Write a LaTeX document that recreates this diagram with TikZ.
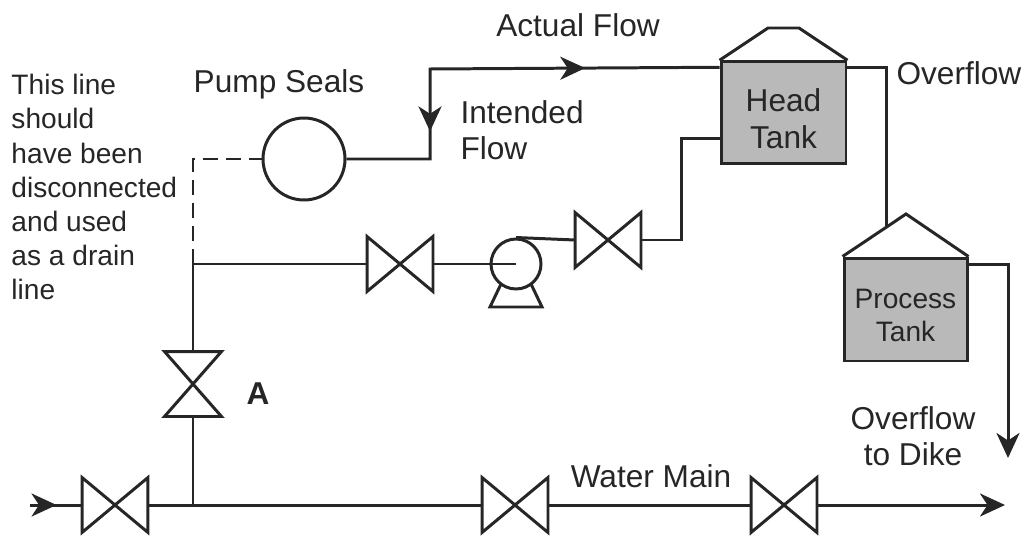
\documentclass[tikz,border=0pt]{standalone}
\usepackage{fontspec}
\setmainfont{Liberation Sans}
\usetikzlibrary{arrows.meta,decorations.markings}

\begin{document}
\begin{tikzpicture}[
                        x=0.02cm, y=-0.02cm,
                        color=black!85,
                        line width=1.7pt,
                        >={Stealth[length=0.5cm,width=0.46cm,inset=0.15cm]},
                        every node/.style={
                                font=\fontsize{18}{20.5}\selectfont,
                                inner sep=0pt,
                            },
                        valve/.style={minimum width=1.26cm, minimum height=1.04cm},
                        valveup/.style={minimum width=1.08cm, minimum height=1.24cm},
                        tank/.style={draw, fill=gray!55, minimum width=2.5cm, minimum height=2.03cm},
                        tanklabel/.style={align=center, font=\fontsize{18}{21}\selectfont},
                        seal/.style={circle, draw, minimum size=1.64cm},
                        pumpbody/.style={circle, draw, minimum size=1cm},
                        flowmark/.style={
                                postaction={decorate},
                                decoration={markings, mark=at position #1 with {\arrow{>}}},
                            },
                    ]

                    \useasboundingbox (0,0) rectangle (1026,537);

                    \coordinate (in) at (30,505);
                    \coordinate (out) at (1005,505);
                    \coordinate (mj) at (193,505);
                    \coordinate (tj) at (193,264);
                    \coordinate (tee) at (430,69);
                    \coordinate (ptin) at (886,228);
                    \coordinate (dike) at (1008,458);

                    \node[valve] (vin) at (115,505) {};
                    \node[valve] (vmid) at (515,505) {};
                    \node[valve] (vend) at (784,505) {};
                    \node[valve] (vsuc) at (400,264) {};
                    \node[valve] (vdis) at (608,240) {};
                    \node[valveup] (vA) at (193,384) {};

                    \foreach \v in {vin,vmid,vend,vsuc,vdis}{
                            \draw (\v.north west) -- (\v.south east) -- (\v.north east) -- (\v.south west) -- cycle;
                        }
                    \draw (vA.north west) -- (vA.north east) -- (vA.south west) -- (vA.south east) -- cycle;

                    \node[seal] (ps) at (304,159) {};
                    \node[pumpbody] (pu) at (516,264) {};
                    \draw ([shift={(-15,20)}]pu.center) -- ++(-11,23) -- ++(52,0) -- ++(-11,-23);

                    \node[tank] (ht) at (783.5,112.5) {};
                    \draw (ht.north west) -- (768,28) -- (799,28) -- (ht.north east);
                    \node[tanklabel] (htl) at ([yshift=-0.12cm]ht.center) {Head\\Tank};

                    \node[tank, minimum width=2.46cm, minimum height=2.06cm] (pt) at (905.5,309.5) {};
                    \draw (pt.north west) -- (906,214) -- (pt.north east);
                    \node[tanklabel, font=\fontsize{16}{19}\selectfont] (ptl) at ([yshift=-0.12cm]pt.center) {Process\\Tank};

                    \draw[flowmark=0.51] (in) -- (vin.west);
                    \draw (vin.east) -- (vmid.west);
                    \draw (vmid.east) -- (vend.west);
                    \draw[->] (vend.east) -- (out);

                    \draw (mj) -- (vA.south);
                    \draw (vA.north) |- (vsuc.west);
                    \draw[dash pattern=on 0.3cm off 0.16cm] (tj) |- (ps.west);
                    \draw (vsuc.east) -- (pu.center);
                    \draw (pu.north) -- (vdis.west);
                    \draw (vdis.east) -| ([xshift=-0.76cm,yshift=0.52cm]ht.south west) -- ([yshift=0.52cm]ht.south west);

                    \draw[postaction={decorate}, decoration={markings,
                                    mark=at position 0.24 with {\arrowreversed{>}},
                                    mark=at position 0.71 with {\arrow{>}}}]
                    (ps.east) -| (tee) -- ([yshift=-0.14cm]ht.north west);

                    \draw ([yshift=-0.14cm]ht.north east) -| (ptin);
                    \draw[->] ([yshift=-0.16cm]pt.north east) -| (dike);

                    \node (actual) at (578,25) {Actual Flow};
                    \node[anchor=north] (seals) at (279,68) {Pump Seals};
                    \node[anchor=north west, align=left] (intended) at (459,99) {Intended\\Flow};
                    \node[anchor=north west] (over) at (895,60) {Overflow};
                    \node[anchor=north, align=center] (overdike) at (913,405) {Overflow\\to Dike};
                    \node[anchor=north] (water) at (651,463) {Water Main};
                    \node[font=\fontsize{18}{20.5}\selectfont\bfseries] (lblA) at (258,394) {A};
                    \node[anchor=north west, align=left, font=\fontsize{16}{19.4}\selectfont] (note) at (10,73)
                    {This line\\should\\have been\\disconnected\\and used\\as a drain\\line};
                \end{tikzpicture}
\end{document}
